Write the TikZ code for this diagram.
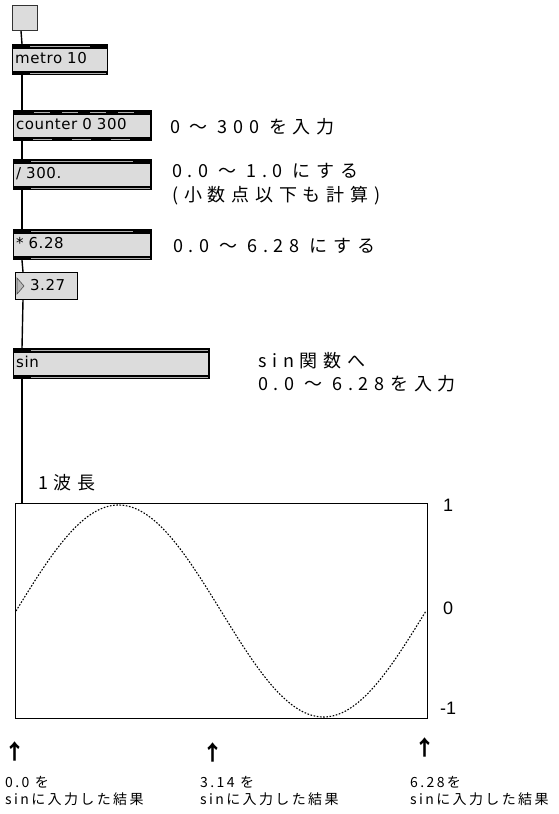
\documentclass[tikz,border=0pt]{standalone}
\usepackage{fontspec}
\setsansfont{Liberation Sans}
\newfontfamily\boxfont{DejaVu Sans}[LetterSpace=4]
\newfontfamily\jpfont{Noto Sans CJK JP}[LetterSpace=32]
\newfontfamily\jpsmall{Noto Sans CJK JP}[LetterSpace=17]
\definecolor{boxgray}{HTML}{DCDCDC}
\definecolor{gapgray}{HTML}{B0B0B0}

\begin{document}
\begin{tikzpicture}[x=1pt,y=-1pt,
  obj/.style={draw=black,line width=1.2pt,fill=boxgray,anchor=north west,minimum height=30pt,
              text width=#1,align=left,inner xsep=2.5pt,text height=11pt,text depth=3pt,
              font=\fontsize{15}{16}\selectfont\boxfont},
  tog/.style={draw=black!80,line width=1pt,fill=boxgray,anchor=north west,minimum size=25pt,inner sep=0pt},
  cord/.style={draw=black,line width=1.4pt},
  gap/.style={draw=gapgray,line width=.9pt},
  note/.style={anchor=west,inner sep=0pt,align=left,font=\fontsize{18}{24}\selectfont\jpfont},
  res/.style={anchor=west,inner sep=0pt,align=left,font=\fontsize{14}{17}\selectfont\jpsmall},
  axl/.style={anchor=west,inner sep=0pt,font=\fontsize{18}{18}\selectfont\sffamily},
  uparr/.style={inner sep=0pt,font=\fontsize{21}{21}\selectfont\jpfont\bfseries},
  wave/.style={draw=black,line width=1.1pt,dash pattern=on 1.6pt off 1.6pt}]

\useasboundingbox (0,0) rectangle (558,814);

\node[tog](tog) at (12,5){};
\node[obj=89.8pt](metro) at (12,44){metro 10};
\node[obj=132.3pt](counter) at (13,110){counter 0 300};
\node[obj=132.3pt](div) at (13,159){/ 300.};
\node[obj=132.3pt](mul) at (13,229){* 6.28};
\node[obj=56.5pt,line width=1pt,minimum height=27pt](num) at (15,272){\hspace*{12pt}3.27};
\node[obj=190.3pt](sin) at (13,348){sin};

\foreach \o/\r in {metro/18,div/19,mul/19,sin/2}{
  \fill (\o.north west) rectangle ([yshift=-4.5pt]\o.north east);
  \fill (\o.south west) rectangle ([yshift=4.5pt]\o.south east);
  \draw[gap] ([xshift=18pt,yshift=-2.2pt]\o.north west) -- ([xshift=-\r pt,yshift=-2.2pt]\o.north east);
  \draw[gap] ([xshift=18pt,yshift=2.2pt]\o.south west) -- ([xshift=-2pt,yshift=2.2pt]\o.south east);
}
\fill (counter.north west) rectangle ([yshift=-4.5pt]counter.north east);
\fill (counter.south west) rectangle ([yshift=4.5pt]counter.south east);
\draw[gap,dash pattern=on 16pt off 12pt] ([xshift=21pt,yshift=-2.2pt]counter.north west) -- ([xshift=-17pt,yshift=-2.2pt]counter.north east);
\draw[gap,dash pattern=on 19pt off 20pt] ([xshift=20pt,yshift=2.2pt]counter.south west) -- ([xshift=-21pt,yshift=2.2pt]counter.south east);
\filldraw[draw=black!70,fill=gray!55,line width=.6pt] ([xshift=2pt,yshift=-6pt]num.north west) -- ++(7,8) -- ++(-7,8) -- cycle;

\node[draw=black,line width=1.2pt,anchor=north west,minimum width=412pt,minimum height=215pt](graph) at (15,503){};
\draw[wave] plot[domain=0:360,samples=150] ({16+\x/360*410},{611-106*sin(\x)});

\draw[cord] ([xshift=9pt]tog.south west) -- ([xshift=10pt]metro.north west);
\draw[cord] ([xshift=10pt]metro.south west) -- ([xshift=9pt]counter.north west);
\draw[cord] ([xshift=9pt]counter.south west) -- ([xshift=9pt]div.north west);
\draw[cord] ([xshift=9pt]div.south west) -- ([xshift=9pt]mul.north west);
\draw[cord] ([xshift=9pt]mul.south west) -- ([xshift=8pt]num.north west);
\draw[cord] ([xshift=8pt]num.south west) -- ([xshift=9pt]sin.north west);
\draw[cord] ([xshift=9pt]sin.south west) -- ([xshift=7pt]graph.north west);

\node[note](n1) at (170,127){0 ～ 300 を入力};
\node[note](n2) at (172,184){0.0 ～ 1.0 にする\\(小数点以下も計算)};
\node[note](n3) at (173,246){0.0 ～ 6.28 にする};
\node[note,font=\fontsize{18}{23}\selectfont\jpfont](n4) at (258,372){sin関数へ\\0.0 ～ 6.28を入力};
\node[note](wl) at (38,483){1波長};

\node[axl](ytop) at (443,505){1};
\node[axl](ymid) at (443,608){0};
\node[axl](ybot) at (440,708){-1};

\node[uparr](u1) at (15,751){↑}; \node[uparr](u2) at (213,752){↑}; \node[uparr](u3) at (425,747){↑};
\node[res](r1) at (5,791){0.0 を\\sinに入力した結果};
\node[res](r2) at (200,791){3.14 を\\sinに入力した結果};
\node[res](r3) at (410,791){6.28を\\sinに入力した結果};
\end{tikzpicture}
\end{document}
